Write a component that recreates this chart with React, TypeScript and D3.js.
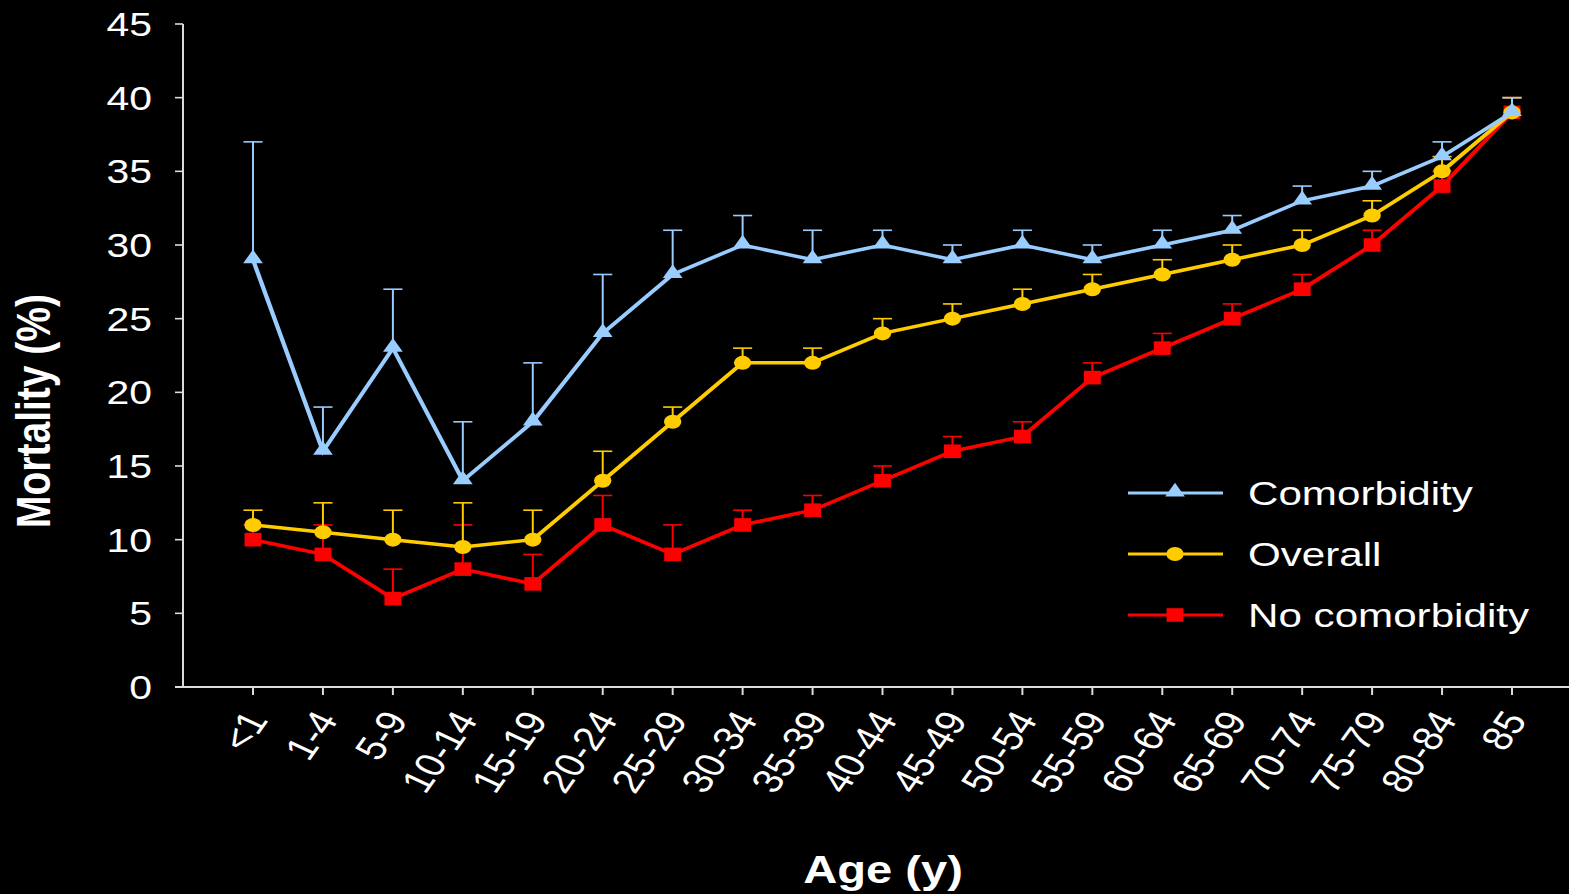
import React from 'react';
import * as d3 from 'd3';

const ageGroups = ['<1', '1-4', '5-9', '10-14', '15-19', '20-24', '25-29', '30-34', '35-39', '40-44',
  '45-49', '50-54', '55-59', '60-64', '65-69', '70-74', '75-79', '80-84', '85'];

const comorbidity = [29, 16, 23, 14, 18, 24, 28, 30, 29, 30, 29, 30, 29, 30, 31, 33, 34, 36, 39];
const comorbidityUpper = [37, 19, 27, 18, 22, 28, 31, 32, 31, 31, 30, 31, 30, 31, 32, 34, 35, 37, 40];

const overall = [11, 10.5, 10, 9.5, 10, 14, 18, 22, 22, 24, 25, 26, 27, 28, 29, 30, 32, 35, 39];
const overallUpper = [12, 12.5, 12, 12.5, 12, 16, 19, 23, 23, 25, 26, 27, 28, 29, 30, 31, 33, 36, 40];

const noComorbidity = [10, 9, 6, 8, 7, 11, 9, 11, 12, 14, 16, 17, 21, 23, 25, 27, 30, 34, 39];
const noComorbidityUpper = [11, 11, 8, 11, 9, 13, 11, 12, 13, 15, 17, 18, 22, 24, 26, 28, 31, 35, 40];

const yTicks = [0, 5, 10, 15, 20, 25, 30, 35, 40, 45];

const W = 1569;
const H = 894;
// the whole slide is stretched horizontally, so draw in a squeezed frame and scale it back
const SX = 1.24;
const font = '"Liberation Sans", Arial, sans-serif';

const series = [
  { name: 'No comorbidity', values: noComorbidity, upper: noComorbidityUpper, color: '#ff0000', shape: 'square' },
  { name: 'Overall', values: overall, upper: overallUpper, color: '#ffcc00', shape: 'circle' },
  { name: 'Comorbidity', values: comorbidity, upper: comorbidityUpper, color: '#99ccff', shape: 'triangle' },
];
const legendOrder = ['Comorbidity', 'Overall', 'No comorbidity'];

const x = d3.scalePoint<string>().domain(ageGroups).range([253 / SX, 1512 / SX]);
const y = d3.scaleLinear().domain([0, 45]).range([687, 24]);
const triangle = d3.symbol().type(d3.symbolTriangle).size(110)();

function Marker({ shape, color, cx, cy }: { shape: string; color: string; cx: number; cy: number }) {
  if (shape === 'circle') return <circle cx={cx} cy={cy} r={7} fill={color} />;
  if (shape === 'square') return <rect x={cx - 6.8} y={cy - 6.8} width={13.6} height={13.6} fill={color} />;
  return <path d={triangle!} transform={`translate(${cx},${cy - 1})`} fill={color} />;
}

export default function App() {
  const axisX = 183 / SX;
  const capHalf = 7.7;
  const line = d3.line<number>().x((_, i) => x(ageGroups[i])!).y(d => y(d));
  return (
    <div style={{ position: 'absolute', left: 0, top: 0, background: '#000' }}>
      <svg width={W} height={H} style={{ display: 'block', background: '#000' }}>
        <rect width={W} height={H} fill="#000" />
        <g transform={`scale(${SX},1)`} fontFamily={font} fill="#fff">
          {/* axes */}
          <line x1={axisX} x2={axisX} y1={y(45)} y2={y(0)} stroke="#ddd" strokeWidth={1.6} />
          <line x1={175 / SX} x2={W / SX} y1={y(0)} y2={y(0)} stroke="#ddd" strokeWidth={2} />
          {yTicks.map(t => (
            <g key={t}>
              <line x1={axisX - 8 / SX} x2={axisX} y1={y(t)} y2={y(t)} stroke="#ddd" strokeWidth={1.6} />
              <text x={152 / SX} y={y(t)} dy="0.36em" textAnchor="end" fontSize={33}>{t}</text>
            </g>
          ))}
          {ageGroups.map(g => (
            <g key={g}>
              <line x1={x(g)} x2={x(g)} y1={y(0)} y2={y(0) + 8} stroke="#ddd" strokeWidth={1.6} />
              <text transform={`translate(${x(g)! + 16 / SX},720) rotate(-60)`} textAnchor="end" fontSize={34}>{g}</text>
            </g>
          ))}
          <text transform={`translate(${50 / SX},411) rotate(-90)`} textAnchor="middle" fontSize={39} fontWeight="bold">Mortality (%)</text>
          <text x={883 / SX} y={883} textAnchor="middle" fontSize={38} fontWeight="bold">Age (y)</text>

          {/* series */}
          {series.map(s => (
            <g key={s.name}>
              {s.values.map((v, i) => {
                const cx = x(ageGroups[i])!;
                return (
                  <g key={i} stroke={s.color} strokeWidth={1.6}>
                    <line x1={cx} x2={cx} y1={y(v)} y2={y(s.upper[i])} />
                    <line x1={cx - capHalf} x2={cx + capHalf} y1={y(s.upper[i])} y2={y(s.upper[i])} />
                  </g>
                );
              })}
              <path d={line(s.values)!} fill="none" stroke={s.color} strokeWidth={3.5} />
              {s.values.map((v, i) => (
                <Marker key={i} shape={s.shape} color={s.color} cx={x(ageGroups[i])!} cy={y(v)} />
              ))}
            </g>
          ))}

          {/* legend */}
          {legendOrder.map((name, i) => {
            const s = series.find(d => d.name === name)!;
            const ly = 493 + i * 61;
            return (
              <g key={name}>
                <line x1={1128 / SX} x2={1223 / SX} y1={ly} y2={ly} stroke={s.color} strokeWidth={3} />
                <Marker shape={s.shape} color={s.color} cx={1175 / SX} cy={ly} />
                <text x={1248 / SX} y={ly + 12} fontSize={34}>{name}</text>
              </g>
            );
          })}
        </g>
      </svg>
    </div>
  );
}
